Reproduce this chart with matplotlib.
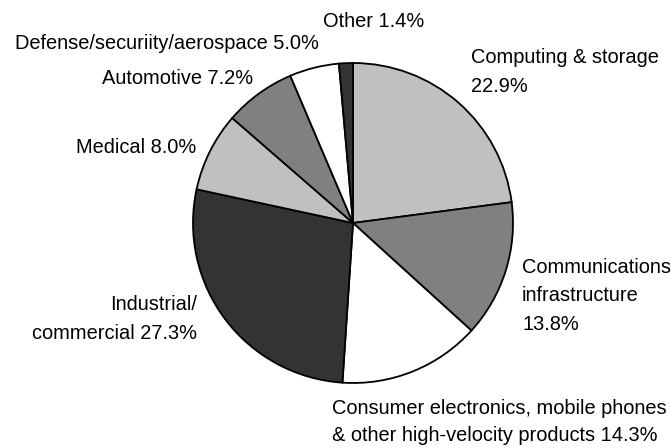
import matplotlib
matplotlib.use("Agg")
import matplotlib.pyplot as plt

# Data (clockwise from 12 o'clock)
categories = [
    "Computing & storage",
    "Communications infrastructure",
    "Consumer electronics, mobile phones & other high-velocity products",
    "Industrial/commercial",
    "Medical",
    "Automotive",
    "Defense/securiity/aerospace",
    "Other",
]
shares = [22.9, 13.8, 14.3, 27.3, 8.0, 7.2, 5.0, 1.4]
label_lines = [
    ["Computing & storage", "22.9%"],
    ["Communications", "infrastructure", "13.8%"],
    ["Consumer electronics, mobile phones", "& other high-velocity products 14.3%"],
    ["Industrial/", "commercial 27.3%"],
    ["Medical 8.0%"],
    ["Automotive 7.2%"],
    ["Defense/securiity/aerospace 5.0%"],
    ["Other 1.4%"],
]

colors = ["#C0C0C0", "#808080", "#FFFFFF", "#333333",
          "#C0C0C0", "#808080", "#FFFFFF", "#333333"]

W, H = 671, 448
fig = plt.figure(figsize=(W / 100, H / 100), dpi=100)
ax = fig.add_axes([0, 0, 1, 1])

cx, cy, r = 353, H - 223, 160
ax.pie(shares, colors=colors, startangle=90, counterclock=False,
       center=(cx, cy), radius=r, frame=True,
       wedgeprops=dict(edgecolor="black", linewidth=1.3))
ax.set_xlim(0, W)
ax.set_ylim(0, H)
ax.set_aspect("equal")
ax.axis("off")

# label placement: (x, first baseline in px from top, line step, alignment)
placements = [
    (471, 63, 29, "left"),
    (522, 272.5, 28.5, "left"),
    (332, 414, 27, "left"),
    (197, 309.5, 29, "right"),
    (196, 152.5, 0, "right"),
    (102, 84, 0, "left"),
    (167, 48.5, 0, "center"),
    (323, 26.5, 0, "left"),
]

font = dict(family=["Liberation Sans", "DejaVu Sans"], size=14.4, color="black")
for lines, (x, y0, step, ha) in zip(label_lines, placements):
    for i, line in enumerate(lines):
        ax.text(x, H - (y0 + i * step), line, ha=ha, va="baseline", **font)

fig.savefig("out.png", dpi=100)
